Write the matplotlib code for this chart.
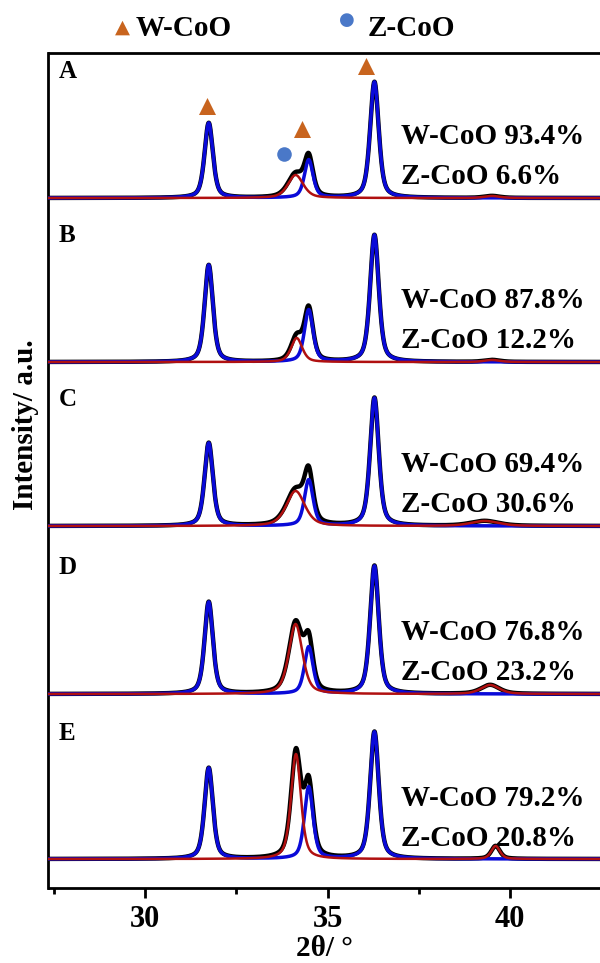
import numpy as np
import matplotlib
matplotlib.use("Agg")
import matplotlib.pyplot as plt
from matplotlib.ticker import FixedLocator

plt.rcParams['font.family'] = ['Liberation Serif', 'DejaVu Serif']
plt.rcParams['font.weight'] = 'bold'

# ---------------- data ----------------
samples = ["A", "B", "C", "D", "E"]
w_pct = [93.4, 87.8, 69.4, 76.8, 79.2]
z_pct = [6.6, 12.2, 30.6, 23.2, 20.8]

# blue fitted peaks (2theta centres, deg)
blue_centers = [31.74, 34.48, 36.28]
blue_h_A = [75, 38, 116]
blue_h_B = [97, 52, 127]
blue_h_C = [83, 46, 128]
blue_h_D = [92, 47, 128]
blue_h_E = [91, 72, 127]
blue_fwhm = [0.27, 0.28, 0.28]

# red fitted peaks
red_centers_A = [34.12, 39.50]
red_centers_B = [34.15, 39.50]
red_centers_C = [34.12, 39.30]
red_centers_D = [34.12, 39.45]
red_centers_E = [34.13, 39.60]
red_h_A = [23, 2]
red_h_B = [24, 2]
red_h_C = [35, 5]
red_h_D = [70, 9]
red_h_E = [105, 13]
red_fwhm_A = [0.50, 0.5]
red_fwhm_B = [0.36, 0.5]
red_fwhm_C = [0.60, 0.9]
red_fwhm_D = [0.44, 0.6]
red_fwhm_E = [0.32, 0.28]

blue_heights = [blue_h_A, blue_h_B, blue_h_C, blue_h_D, blue_h_E]
red_centers = [red_centers_A, red_centers_B, red_centers_C, red_centers_D, red_centers_E]
red_heights = [red_h_A, red_h_B, red_h_C, red_h_D, red_h_E]
red_fwhms = [red_fwhm_A, red_fwhm_B, red_fwhm_C, red_fwhm_D, red_fwhm_E]

# marker positions in panel A (2theta, height above baseline)
w_marker_x = [31.70, 34.30, 36.05]
w_marker_y = [92, 69, 132]
z_marker_x = [33.80]
z_marker_y = [44]

# ---------------- helpers ----------------
def pvoigt(x, c, h, fwhm, eta=0.5):
    g = np.exp(-4 * np.log(2) * (x - c) ** 2 / fwhm ** 2)
    l = 1.0 / (1.0 + 4 * (x - c) ** 2 / fwhm ** 2)
    return h * (eta * l + (1 - eta) * g)

x = np.linspace(27.0, 43.0, 3000)

fig = plt.figure(figsize=(6.0, 9.63), dpi=100)
ax = fig.add_axes([48.5 / 600, 75 / 963, 1 - 48.5 / 600, (888 - 53) / 963])
ax.set_xlim(27.35, 42.46)
ax.set_ylim(0, 835)

offsets = [690, 526, 362, 194, 29]

for i, s in enumerate(samples):
    off = offsets[i]
    blue = np.zeros_like(x)
    for c, h, fw in zip(blue_centers, blue_heights[i], blue_fwhm):
        blue += pvoigt(x, c, h, fw)
    red = np.zeros_like(x)
    for c, h, fw in zip(red_centers[i], red_heights[i], red_fwhms[i]):
        red += pvoigt(x, c, h, fw)
    total = blue + red
    ax.plot(x, total + off, color="black", lw=3.2, zorder=2)
    ax.plot(x, blue + off, color="#0a0ad8", lw=2.5, zorder=3)
    ax.plot(x, red + off, color="#b01010", lw=1.8, zorder=4)
    ax.text(27.62, off + 126, s, fontsize=18, fontweight="bold", va="center", ha="left")
    ax.text(37.0, off + 61, f"W-CoO {w_pct[i]}%", fontsize=21, fontweight="bold", va="center", ha="left")
    ax.text(37.0, off + 21, f"Z-CoO {z_pct[i]}%", fontsize=21, fontweight="bold", va="center", ha="left")

# markers in panel A
ax.scatter(w_marker_x, [offsets[0] + v for v in w_marker_y], marker="^", s=150, color="#c8641e", zorder=5, linewidths=0)
ax.scatter(z_marker_x, [offsets[0] + v for v in z_marker_y], marker="o", s=110, color="#4a78c8", zorder=5, linewidths=0)

# legend above frame
fig.text(122 / 600, 1 - 27 / 963, "\u25B2", color="#c8641e", fontsize=14, ha="center", va="center", family="DejaVu Sans")
fig.text(136 / 600, 1 - 28 / 963, "W-CoO", fontsize=21, fontweight="bold", ha="left", va="center")
fig.text(347 / 600, 1 - 20 / 963, "\u25CF", color="#4a78c8", fontsize=13, ha="center", va="center", family="DejaVu Sans")
fig.text(368 / 600, 1 - 28 / 963, "Z-CoO", fontsize=21, fontweight="bold", ha="left", va="center")

# axes styling
for sp in ["left", "bottom", "top"]:
    ax.spines[sp].set_linewidth(2.0)
ax.spines["right"].set_visible(False)
ax.set_yticks([])
ax.xaxis.set_major_locator(FixedLocator([30, 35, 40]))
ax.xaxis.set_minor_locator(FixedLocator([27.5, 32.5, 37.5, 42.5]))
ax.tick_params(axis="x", which="major", direction="out", length=7, width=2, labelsize=22, pad=5)
ax.tick_params(axis="x", which="minor", direction="out", length=4, width=2)
for lab in ax.get_xticklabels():
    lab.set_fontweight("bold")
ax.set_xlabel("2\u03b8/ \u00b0", fontsize=21, fontweight="bold", labelpad=1)
ax.set_ylabel("Intensity/ a.u.", fontsize=21, fontweight="bold")
ax.yaxis.set_label_coords(-0.018, 0.555)

fig.savefig("out.png", dpi=100)
